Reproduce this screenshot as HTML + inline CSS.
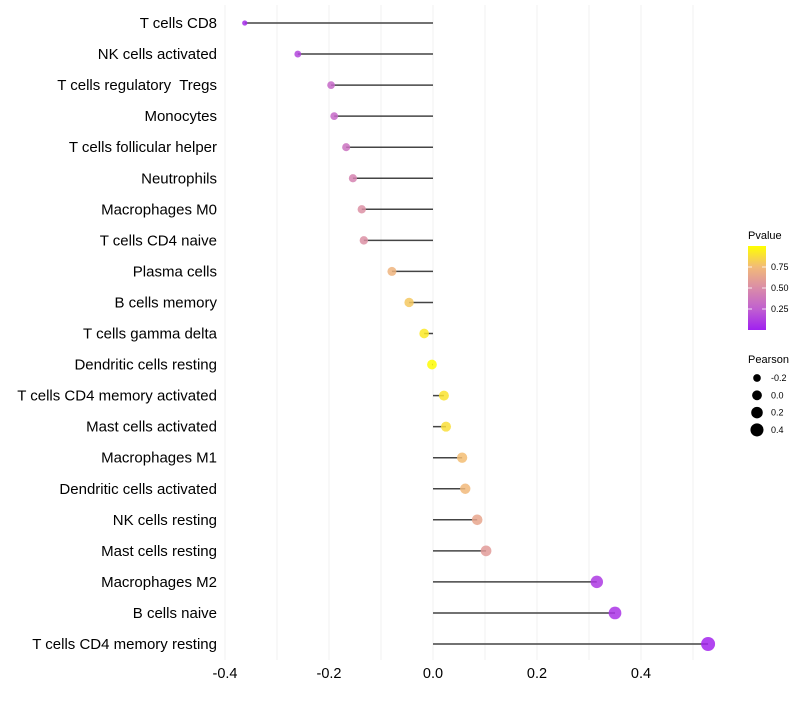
<!DOCTYPE html>
<html><head><meta charset="utf-8"><style>
body{margin:0;background:#fff;font-family:"Liberation Sans",sans-serif}
text{white-space:pre}
</style></head><body>
<svg id="c" width="800" height="700" xmlns="http://www.w3.org/2000/svg" font-family="Liberation Sans, sans-serif"></svg>
<script>
const cells=["T cells CD8","NK cells activated","T cells regulatory  Tregs","Monocytes","T cells follicular helper","Neutrophils","Macrophages M0","T cells CD4 naive","Plasma cells","B cells memory","T cells gamma delta","Dendritic cells resting","T cells CD4 memory activated","Mast cells activated","Macrophages M1","Dendritic cells activated","NK cells resting","Mast cells resting","Macrophages M2","B cells naive","T cells CD4 memory resting"];
const pearson=[-0.362,-0.26,-0.196,-0.19,-0.167,-0.154,-0.137,-0.133,-0.079,-0.046,-0.017,-0.002,0.021,0.025,0.056,0.062,0.085,0.102,0.315,0.35,0.529];
const pvalue=[0.05,0.15,0.3,0.3,0.35,0.45,0.52,0.52,0.72,0.8,0.92,0.99,0.9,0.88,0.76,0.74,0.64,0.58,0.1,0.08,0.02];
const xTicks=[-0.4,-0.2,0.0,0.2,0.4];
const xTickLabels=["-0.4","-0.2","0.0","0.2","0.4"];
const pTicks=[0.25,0.5,0.75];
const pTickLabels=["0.25","0.50","0.75"];
const sizeLegend=[-0.2,0.0,0.2,0.4];
const sizeLegendLabels=["-0.2","0.0","0.2","0.4"];

const svg=document.getElementById('c');
const NS="http://www.w3.org/2000/svg";
const X=v=>433+v*520;
const Y=i=>23+i*31.05;
const R=v=>Math.sqrt(Math.max(3,24+47*v));
const stops=[[0,[160,32,240]],[0.25,[192,96,208]],[0.5,[218,140,168]],[0.75,[242,186,120]],[1,[255,255,0]]];
function col(p){for(let k=1;k<stops.length;k++){if(p<=stops[k][0]){const a=stops[k-1],b=stops[k];const t=(p-a[0])/(b[0]-a[0]);const c=a[1].map((v,j)=>Math.round(v+(b[1][j]-v)*t));return `rgb(${c})`;}}return 'rgb(255,255,0)';}
function el(t,a,p){const e=document.createElementNS(NS,t);for(const k in a)e.setAttribute(k,a[k]);(p||svg).appendChild(e);return e;}

for(let g=-0.4;g<=0.51;g+=0.1){
  const l=el('line',{x1:X(g),x2:X(g),y1:5,y2:660,stroke:'#f0f0f0','stroke-width':1});
  
  
}
xTicks.forEach((v,i)=>{
  const t=el('text',{x:X(v),y:678,'text-anchor':'middle','font-size':14.5,fill:'#000'});
  t.textContent=xTickLabels[i];
  
  
});
cells.forEach((c,i)=>{
  const y=Y(i);
  const t=el('text',{x:217,y:y+5,'text-anchor':'end','font-size':15,fill:'#000'});
  t.textContent=c;
  
  
  const l=el('line',{x1:X(0),x2:X(pearson[i]),y1:y,y2:y,stroke:'#444','stroke-width':1.5});
  
  
  const d=el('circle',{cx:X(pearson[i]),cy:y,r:R(pearson[i]),fill:col(pvalue[i]),'fill-opacity':0.85});
  
  
});
const defs=el('defs',{});
const lg=el('linearGradient',{id:'pg',x1:0,y1:1,x2:0,y2:0},defs);
stops.forEach(s=>el('stop',{offset:s[0],'stop-color':`rgb(${s[1]})`},lg));
const lt=el('text',{x:748,y:239,'font-size':11,fill:'#000'});lt.textContent='Pvalue';


const bar=el('rect',{x:748,y:246,width:18,height:84,fill:'url(#pg)'});


pTicks.forEach((p,i)=>{
  const y=330-p*84;
  el('line',{x1:748,x2:752,y1:y,y2:y,stroke:'#fff','stroke-width':0.8});
  el('line',{x1:762,x2:766,y1:y,y2:y,stroke:'#fff','stroke-width':0.8});
  const t=el('text',{x:771,y:y+3,'font-size':9,fill:'#000'});t.textContent=pTickLabels[i];
  
  
});
const st=el('text',{x:748,y:363,'font-size':11,fill:'#000'});st.textContent='Pearson';


sizeLegend.forEach((v,i)=>{
  const y=378+i*17.3;
  const c=el('circle',{cx:757,cy:y,r:R(v),fill:'#000'});
  
  
  const t=el('text',{x:771,y:y+3,'font-size':9,fill:'#000'});t.textContent=sizeLegendLabels[i];
  
  
});
</script>
</body></html>
